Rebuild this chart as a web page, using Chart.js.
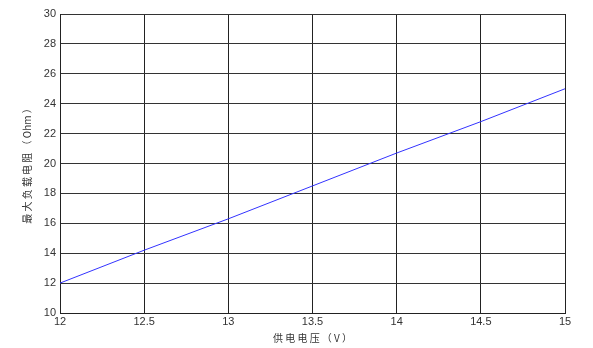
<!DOCTYPE html>
<html>
<head>
<meta charset="utf-8">
<script src="https://cdn.jsdelivr.net/npm/chart.js@4"></script>
<style>
  html, body { margin: 0; padding: 0; background: #fff; }
  #wrap { width: 593px; height: 348px; }
</style>
</head>
<body>
<div id="wrap"><canvas id="lineChart" width="593" height="348"></canvas></div>
<script>
// supply voltage (V) vs max load resistance (Ohm)
const voltage = [12, 12.5, 13, 13.5, 14, 14.5, 15];
const resistance = [12, 14.2, 16.3, 18.5, 20.7, 22.8, 25];
const xTicks = [12, 12.5, 13, 13.5, 14, 14.5, 15];
const yTicks = [10, 12, 14, 16, 18, 20, 22, 24, 26, 28, 30];

const CHART = document.getElementById("lineChart");
const points = voltage.map((v, i) => ({ x: v, y: resistance[i] }));

const lineChart = new Chart(CHART, {
    type: 'line',
    data: {
        datasets: [{
            data: points,
            borderColor: '#3333ff',
            borderWidth: 1,
            pointRadius: 0,
            tension: 0,
            fill: false
        }]
    },
    options: {
        responsive: false,
        animation: false,
        layout: { padding: { top: 14, right: 28, left: 0, bottom: 0 } },
        plugins: { legend: { display: false }, tooltip: { enabled: false } },
        scales: {
            x: {
                type: 'linear',
                min: 12,
                max: 15,
                afterBuildTicks: s => { s.ticks = xTicks.map(v => ({ value: v })); },
                afterFit: s => { s.height = 35; },
                grid: { color: '#222', lineWidth: 1, drawTicks: false },
                border: { color: '#222' },
                ticks: {
                    color: '#333',
                    font: { family: 'Liberation Sans', size: 11 },
                    padding: 2,
                    maxRotation: 0,
                    callback: v => v
                },
                title: {
                    display: true,
                    text: '供 电 电 压 （ V ）',
                    color: '#333',
                    font: { family: 'Noto Sans CJK SC', size: 10 },
                    padding: { top: 1, bottom: 4 }
                }
            },
            y: {
                min: 10,
                max: 30,
                afterBuildTicks: s => { s.ticks = yTicks.map(v => ({ value: v })); },
                afterFit: s => { s.width = 60; },
                grid: { color: '#333', lineWidth: 1, drawTicks: false },
                border: { color: '#222' },
                ticks: {
                    color: '#333',
                    font: { family: 'Liberation Sans', size: 11 },
                    padding: 4
                },
                title: {
                    display: true,
                    text: '最 大 负 载 电 阻 （ Ohm ）',
                    color: '#333',
                    font: { family: 'Noto Sans CJK SC', size: 10 },
                    padding: { top: 21, bottom: 4 }
                }
            }
        }
    }
});
</script>
</body>
</html>
